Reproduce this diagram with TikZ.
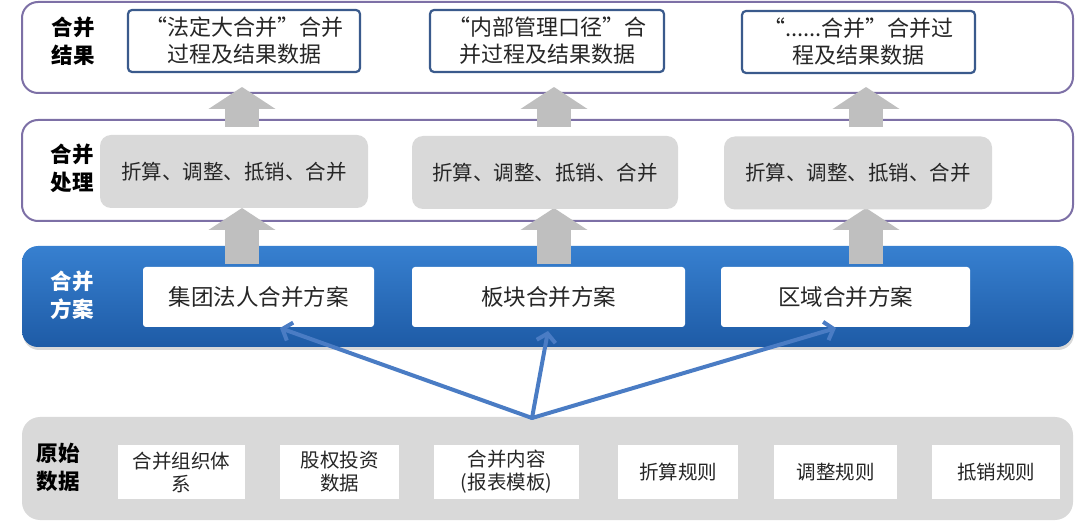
\documentclass[tikz,border=0pt]{standalone}
\usepackage{fontspec}
\setmainfont{Noto Sans CJK SC}
\usetikzlibrary{arrows.meta,calc,shadows}
\definecolor{bandline}{HTML}{7D70A6}
\definecolor{resline}{HTML}{3A5A8C}
\definecolor{procgray}{HTML}{D9D9D9}
\definecolor{arrowgray}{HTML}{BFBFBF}
\definecolor{bluetop}{HTML}{3780D0}
\definecolor{bluebot}{HTML}{1E5BA6}
\definecolor{conn}{HTML}{4A7CC4}
\definecolor{datagray}{HTML}{D9D9D9}
\definecolor{txt}{HTML}{262626}
\begin{document}
\begin{tikzpicture}[x=1pt,y=-1pt,
  band/.style={draw=bandline, line width=2pt, rounded corners=16pt, fill=white, inner sep=0pt, minimum width=1051pt},
  blueband/.style={rounded corners=16pt, top color=bluetop, bottom color=bluebot, inner sep=0pt, minimum width=1051pt,
     drop shadow={opacity=0.3, shadow xshift=1pt, shadow yshift=-3pt}},
  databand/.style={rounded corners=18pt, fill=datagray, inner sep=0pt, minimum width=1051pt},
  resbox/.style={draw=resline, line width=2.2pt, rounded corners=4pt, fill=white, inner sep=0pt, minimum height=62pt,
     align=center, text=txt, font=\fontsize{22}{27}\selectfont},
  procbox/.style={fill=procgray, rounded corners=11pt, inner sep=0pt, minimum height=73pt, text=txt,
     font=\fontsize{20.5}{26}\selectfont},
  planbox/.style={fill=white, rounded corners=3pt, inner sep=0pt, minimum height=60pt, text=txt,
     font=\fontsize{22.5}{26}\selectfont},
  databox/.style={fill=white, inner sep=0pt, minimum height=54pt, align=center, text=txt,
     font=\fontsize{19.5}{23}\selectfont},
  lab/.style={align=center, font=\bfseries\fontsize{21.5}{28}\selectfont, inner sep=0pt},
  garrow/.style={draw=arrowgray, line width=34pt, -{Triangle[length=22pt, width=66pt]}},
  bconn/.style={draw=conn, line width=4pt, line cap=round, -{Straight Barb[length=8pt, width=19pt, line width=4pt]}}
]
\useasboundingbox (0,0) rectangle (1080,521);

% bands
\node[band, minimum height=91pt] (resband) at (547.5,47.5) {};
\node[band, minimum height=101pt] (procband) at (547.5,170.5) {};
\node[blueband, minimum height=101pt] (planband) at (547.5,296.5) {};
\node[databand, minimum height=103pt] (databand) at (547.5,468.5) {};

% grey arrows
\coordinate (u1b) at (242,127); \coordinate (u1t) at (242,87);
\coordinate (u2b) at (554,127); \coordinate (u2t) at (554,87);
\coordinate (u3b) at (866,127); \coordinate (u3t) at (866,87);
\coordinate (m1b) at (242,264); \coordinate (m1t) at (242,208);
\coordinate (m2b) at (554,264); \coordinate (m2t) at (554,208);
\coordinate (m3b) at (866,264); \coordinate (m3t) at (866,208);
\draw[garrow] (u1b) -- (u1t);
\draw[garrow] (u2b) -- (u2t);
\draw[garrow] (u3b) -- (u3t);
\draw[garrow] (m1b) -- (m1t);
\draw[garrow] (m2b) -- (m2t);
\draw[garrow] (m3b) -- (m3t);

% labels
\node[lab] (l1) at (73,41) {合并\\结果};
\node[lab] (l2) at (72,168) {合并\\处理};
\node[lab, text=white] (l3) at (72,295) {合并\\方案};
\node[lab] (l4) at (58,467) {原始\\数据};

% result boxes
\node[resbox, minimum width=232pt] (res1) at (244,41) {“法定大合并”合并\\过程及结果数据};
\node[resbox, minimum width=234pt] (res2) at (547,41) {“内部管理口径”合\\并过程及结果数据};
\node[resbox, minimum width=233pt] (res3) at (858.5,42) {“......合并”合并过\\程及结果数据};

% process boxes
\node[procbox, minimum width=268pt] (proc1) at (234,171.5) {折算、调整、抵销、合并};
\node[procbox, minimum width=266pt] (proc2) at (545,172.5) {折算、调整、抵销、合并};
\node[procbox, minimum width=268pt] (proc3) at (858,173) {折算、调整、抵销、合并};

% plan boxes
\node[planbox, minimum width=231pt] (plan1) at (258.5,297) {集团法人合并方案};
\node[planbox, minimum width=273pt] (plan2) at (548.5,297) {板块合并方案};
\node[planbox, minimum width=249pt] (plan3) at (845.5,297) {区域合并方案};

% data boxes
\node[databox, minimum width=127pt] (d1) at (181.5,472) {合并组织体\\系};
\node[databox, minimum width=119pt] (d2) at (339.5,472) {股权投资\\数据};
\node[databox, minimum width=145pt] (d3) at (506.5,472) {合并内容\\(报表模板)};
\node[databox, minimum width=120pt] (d4) at (678,472) {折算规则};
\node[databox, minimum width=123pt] (d5) at (835.5,472) {调整规则};
\node[databox, minimum width=128pt] (d6) at (996,472) {抵销规则};

% blue connectors
\coordinate (src) at (532,418);
\coordinate (t1) at (280,328);
\coordinate (t2) at (548,331);
\coordinate (t3) at (836,328);
\draw[bconn] (src) -- (t1);
\draw[bconn] (src) -- (t2);
\draw[bconn] (src) -- (t3);
\end{tikzpicture}
\end{document}
